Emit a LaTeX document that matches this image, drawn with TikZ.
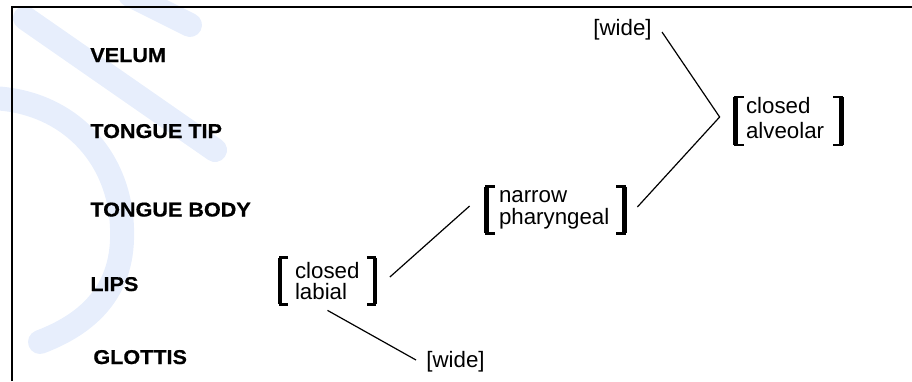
\documentclass[tikz,border=0pt]{standalone}
\usepackage{fontspec}
\setmainfont{Liberation Sans}
\newfontfamily\tierfont[FakeStretch=1.08,FakeBold=0.6]{Liberation Sans Bold}
\usetikzlibrary{calc}
\definecolor{wmblue}{RGB}{231,238,252}
\tikzset{every picture/.style={line width=0.75pt}}
\tikzset{
  tier/.style={anchor=base west, inner sep=0pt, font=\tierfont\fontsize{20}{20}\selectfont},
  feat/.style={align=left, inner ysep=0pt, minimum height=46pt, font=\fontsize{22.3}{21.5}\selectfont},
  val/.style={inner sep=0pt, font=\fontsize{22.3}{21.5}\selectfont},
  brk/.style={line width=2.6pt},
  brkbar/.style={line width=4.6pt},
  link/.style={line width=1.2pt},
  wmark/.style={wmblue, line width=24pt, line cap=round}
}

\begin{document}
\begin{tikzpicture}[x=1pt,y=1pt,yscale=-1]
\useasboundingbox (0,0) rectangle (912,381);

%watermark in the background
\draw[wmark] (25,18) -- (215,150) ;
\draw[wmark] (-10,98) .. controls (70,100) and (125,160) .. (122,240) .. controls (120,295) and (85,325) .. (40,342) ;
\draw[wmark] (130,-5) -- (190,25) ;

%frame
\draw[line width=2.2pt] (12.2,381) -- (12.2,7.2) -- (912,7.2) ;

%tier names
\node[tier] (velum) at (90,62) {VELUM};
\node[tier] (tip) at (90,138) {TONGUE TIP};
\node[tier] (body) at (90,216.5) {TONGUE BODY};
\node[tier] (lips) at (90,291) {LIPS};
\node[tier] (glottis) at (93,364) {GLOTTIS};

%feature bundles
\node[feat, text width=65pt, inner xsep=14.5pt] (lab) at (327.5,281) {closed\\labial};
\node[feat, text width=113pt, inner xsep=12pt] (phar) at (555.5,210) {narrow\\pharyngeal};
\node[feat, text width=85pt, inner xsep=10pt] (alv) at (788.5,121) {closed\\[3pt]alveolar\strut};
\node[val, anchor=west] (wideb) at (426,362) {[wide]};
\node[val, anchor=east] (widet) at (652,30) {[wide]};

%brackets
\foreach \n in {lab,phar,alv}{
  \draw[brk] ($(\n.north west)+(8,0)$) -- (\n.north west) -- (\n.south west) -- ($(\n.south west)+(8,0)$);
  \draw[brk] ($(\n.north east)+(-8,0)$) -- (\n.north east) -- (\n.south east) -- ($(\n.south east)+(-8,0)$);
  \draw[brkbar] (\n.north west) -- (\n.south west);
  \draw[brkbar] (\n.north east) -- (\n.south east);
}

%links
\draw[link] ($(lab.east)+(15,-4)$) -- ($(phar.west)+(-17,-4)$) ;
\draw[link] ($(lab.south)+(0,6)$) -- ($(wideb.west)+(-10,-2)$) ;
\draw[link] ($(phar.east)+(13,-3)$) -- ($(alv.west)+(-16,-4)$) -- ($(widet.east)+(10,2)$) ;

\end{tikzpicture}
\end{document}
